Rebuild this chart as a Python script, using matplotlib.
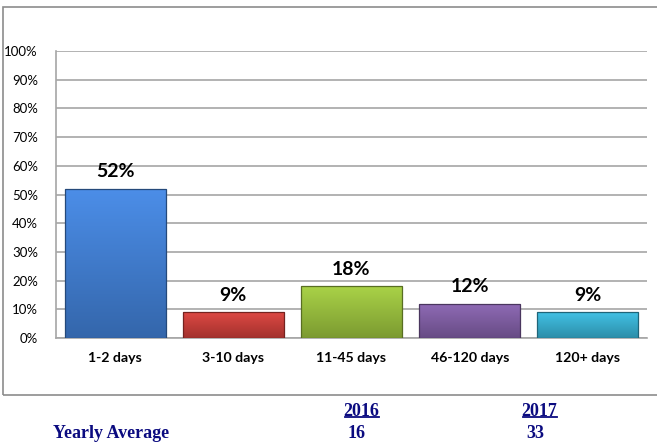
"""
Share of cases by duration bucket, with yearly averages underneath
"""

import matplotlib
matplotlib.use('Agg')
import matplotlib.pyplot as plt
import matplotlib.colors as mcolors
from matplotlib.patches import Rectangle
from matplotlib.lines import Line2D
import numpy as np

categories = ['1-2 days', '3-10 days', '11-45 days', '46-120 days', '120+ days']
shares = [52, 9, 18, 12, 9]  # percent
bar_colors = ['#3E7ACC', '#C23B36', '#93B83A', '#7B5A9E', '#35A9C9']

years = ['2016', '2017']
yearly_average = [16, 33]

navy = '#0B0B80'

fig = plt.figure(figsize=(6.57, 4.42), dpi=100)
ax = fig.add_axes([0.0852, 0.2353, 0.8996, 0.6493])

# outer chart frame (runs off the right edge like the original)
fig.add_artist(Rectangle((3 / 657, 0.1063), 1.0, 0.878, transform=fig.transFigure,
                         fill=False, edgecolor='#8C8C8C', linewidth=1.2, clip_on=False))

x = np.arange(len(categories))
bars = ax.bar(x, shares, width=0.855, color=bar_colors, zorder=3,
              edgecolor='none')

# vertical shading on each bar: lighter at the top, darker at the bottom
for b, c in zip(bars, bar_colors):
    rgb = np.array(mcolors.to_rgb(c))
    top = np.clip(rgb * 1.1 + 0.03, 0, 1)
    bot = rgb * 0.84
    t = np.linspace(0, 1, 64)[:, None]
    grad = (top[None, :] * (1 - t) + bot[None, :] * t)[:, None, :]
    x0, y0 = b.get_x(), b.get_y()
    w, h = b.get_width(), b.get_height()
    img = ax.imshow(grad, extent=[x0, x0 + w, y0, y0 + h], aspect='auto',
                    origin='upper', zorder=3.5, interpolation='bilinear')
    img.set_clip_path(b)
    ax.add_patch(Rectangle((x0, y0), w, h, fill=False,
                           edgecolor=tuple(rgb * 0.6), linewidth=0.9, zorder=4))
    ax.annotate(f'{int(h)}%', (x0 + w / 2, h), xytext=(0, 6),
                textcoords='offset points', ha='center', va='bottom',
                fontsize=14, fontweight='bold', family='Lato', color='black')

ax.set_xlim(-0.5, len(categories) - 0.5)
ax.set_ylim(0, 100)
ax.set_yticks(np.arange(0, 101, 10))
ax.set_yticklabels([f'{v}%' for v in range(0, 101, 10)], family='Lato', fontsize=9.5)
ax.set_xticks(x)
ax.set_xticklabels(categories, family='Lato', fontweight='bold', fontsize=10.2)
ax.tick_params(axis='y', length=0, pad=13)
ax.tick_params(axis='x', length=0, pad=10)

ax.grid(axis='y', color='#A6A6A6', linewidth=1.2, zorder=0)
for s in ['top', 'right']:
    ax.spines[s].set_visible(False)
for s in ['left', 'bottom']:
    ax.spines[s].set_color('#A6A6A6')
    ax.spines[s].set_linewidth(1.2)

# yearly average table under the chart
row_y = 1 - 433 / 442
fig.text(53 / 657, row_y, 'Yearly Average', family='Liberation Serif',
         fontweight='bold', fontsize=13, color=navy, ha='left', va='center')
year_x = [361 / 657, 539 / 657]
val_x = [357 / 657, 535.5 / 657]
headers = []
for yr, v, xh, xv in zip(years, yearly_average, year_x, val_x):
    headers.append(fig.text(xh, 1 - 411 / 442, yr, family='Liberation Serif',
                            fontweight='bold', fontsize=13, color=navy,
                            ha='center', va='center'))
    fig.text(xv, row_y, str(v), family='Liberation Serif', fontweight='bold',
             fontsize=13, color=navy, ha='center', va='center')

# underline the year headers
fig.canvas.draw()
inv = fig.transFigure.inverted()
for t in headers:
    bb = t.get_window_extent()
    (xa, ya), (xb, _) = inv.transform([(bb.x0 + 1.5, bb.y0 + 2.5), (bb.x1, bb.y0)])
    fig.add_artist(Line2D([xa, xb], [ya, ya], transform=fig.transFigure,
                          color=navy, linewidth=1.3))

fig.savefig('out.png', dpi=100)
